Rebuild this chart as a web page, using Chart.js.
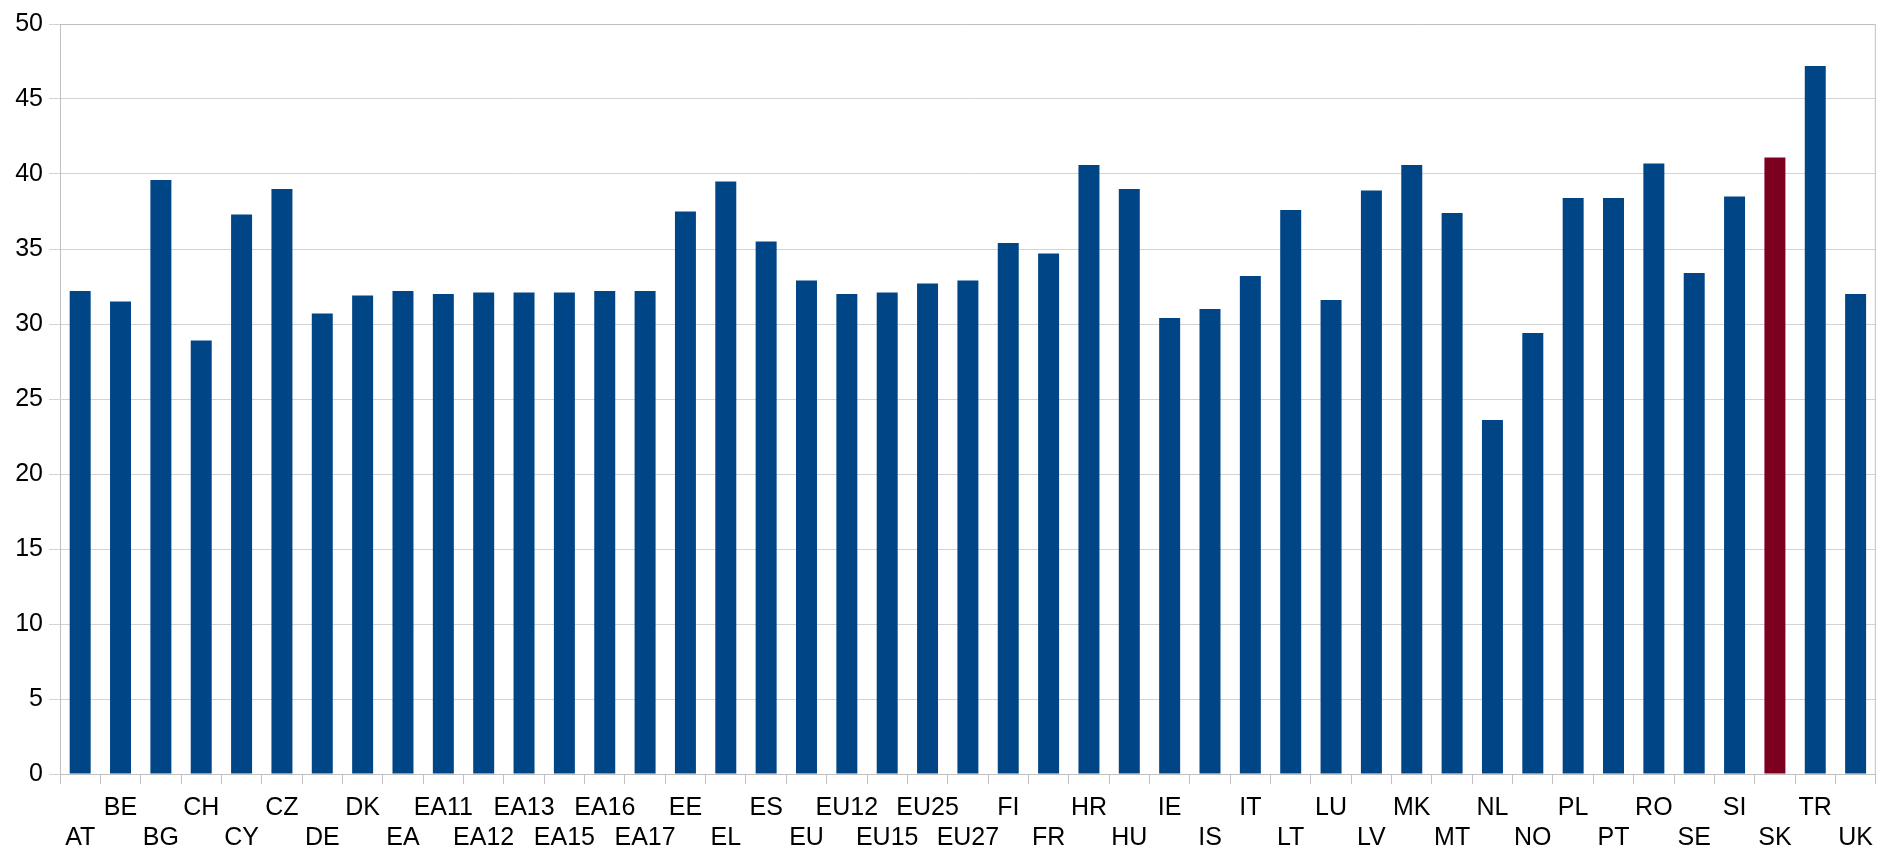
<!DOCTYPE html>
<html>
<head>
<meta charset="utf-8">
<script src="https://cdn.jsdelivr.net/npm/chart.js@4/dist/chart.umd.min.js"></script>
<style>
    html, body { margin: 0; padding: 0; background: #fff; }
    #wrap { width: 1882px; height: 851px; }
</style>
</head>
<body>
<div id="wrap"><canvas id="chart"></canvas></div>
<script>
const categories = ['AT', 'BE', 'BG', 'CH', 'CY', 'CZ', 'DE', 'DK', 'EA', 'EA11', 'EA12', 'EA13', 'EA15', 'EA16', 'EA17',
    'EE', 'EL', 'ES', 'EU', 'EU12', 'EU15', 'EU25', 'EU27', 'FI', 'FR', 'HR', 'HU', 'IE', 'IS', 'IT',
    'LT', 'LU', 'LV', 'MK', 'MT', 'NL', 'NO', 'PL', 'PT', 'RO', 'SE', 'SI', 'SK', 'TR', 'UK'];
const values = [32.2, 31.5, 39.6, 28.9, 37.3, 39.0, 30.7, 31.9, 32.2, 32.0, 32.1, 32.1, 32.1, 32.2, 32.2,
    37.5, 39.5, 35.5, 32.9, 32.0, 32.1, 32.7, 32.9, 35.4, 34.7, 40.6, 39.0, 30.4, 31.0, 33.2,
    37.6, 31.6, 38.9, 40.6, 37.4, 23.6, 29.4, 38.4, 38.4, 40.7, 33.4, 38.5, 41.1, 47.2, 32.0];
const highlight = 'SK';
const yTicks = [0, 5, 10, 15, 20, 25, 30, 35, 40, 45, 50];

const BLUE = '#004586';
const RED = '#7e0021';

// staggered labels: even index on the lower row, odd index on the upper row
const labels = categories.map((c, i) => i % 2 === 0 ? ['', c] : [c, '']);
const colors = categories.map(c => c === highlight ? RED : BLUE);

const frame = {
    id: 'frame',
    afterDraw(chart) {
        const { ctx, chartArea: a } = chart;
        ctx.save();
        ctx.strokeStyle = '#c0c0c0';
        ctx.lineWidth = 1;
        ctx.beginPath();
        ctx.moveTo(a.left, a.top + 0.5);
        ctx.lineTo(a.right - 0.5, a.top + 0.5);
        ctx.lineTo(a.right - 0.5, a.bottom);
        ctx.stroke();
        ctx.restore();
    }
};

new Chart(document.getElementById('chart'), {
    type: 'bar',
    data: {
        labels: labels,
        datasets: [{
            data: values,
            backgroundColor: colors,
            borderWidth: 0,
            categoryPercentage: 1,
            barPercentage: 0.52
        }]
    },
    options: {
        responsive: true,
        maintainAspectRatio: false,
        animation: false,
        layout: { padding: { top: 24, right: 2, left: 0, bottom: 0 } },
        plugins: { legend: { display: false }, tooltip: { enabled: false } },
        scales: {
            x: {
                grid: { drawOnChartArea: false, drawTicks: true, tickLength: 10, color: '#c0c0c0', offset: true },
                border: { display: true, color: '#c0c0c0' },
                ticks: {
                    autoSkip: false,
                    maxRotation: 0,
                    minRotation: 0,
                    padding: 9,
                    color: '#000',
                    font: { family: 'Liberation Sans', size: 25, lineHeight: 1.2 }
                },
                afterFit: (scale) => { scale.height = 77; }
            },
            y: {
                min: 0,
                max: 50,
                afterBuildTicks: (scale) => { scale.ticks = yTicks.map(v => ({ value: v })); },
                grid: { color: '#d3d3d3', tickLength: 11, drawTicks: true },
                border: { display: true, color: '#c0c0c0' },
                ticks: {
                    padding: 6,
                    color: '#000',
                    font: { family: 'Liberation Sans', size: 25 }
                },
                afterFit: (scale) => { scale.width = 60; }
            }
        }
    },
    plugins: [frame]
});
</script>
</body>
</html>
